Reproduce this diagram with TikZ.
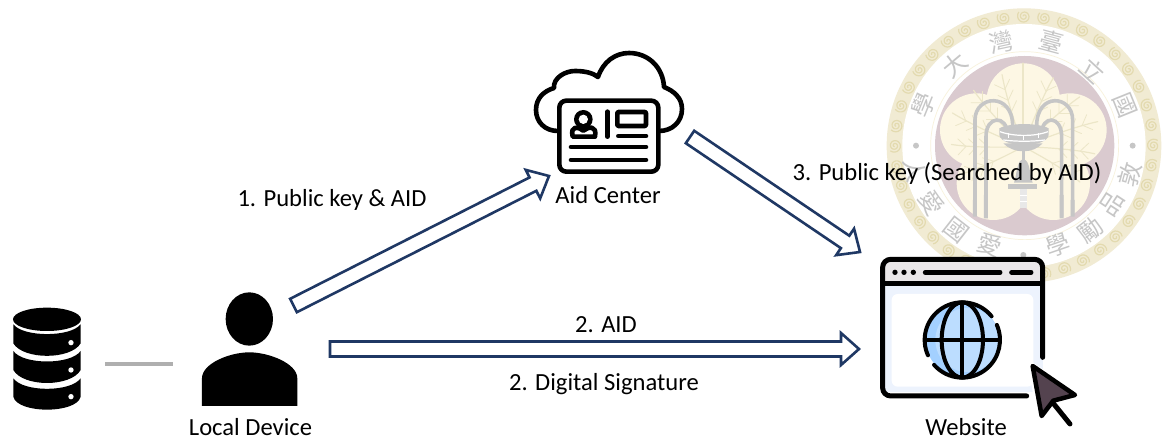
\documentclass[tikz,border=0pt]{standalone}
\usepackage{fontspec}
\setmainfont{Carlito}
\newfontfamily\cjkfont{Noto Sans CJK TC}
\usetikzlibrary{calc}
\definecolor{navy}{HTML}{1F3864}
\definecolor{ringtan}{HTML}{F1EBD3}
\definecolor{ringdark}{HTML}{E3DAAF}
\definecolor{discpurple}{HTML}{DACACF}
\definecolor{petal}{HTML}{FDF7E4}
\definecolor{frond}{HTML}{ECE6C8}
\definecolor{sealgrey}{HTML}{C6C6C6}
\definecolor{linkgrey}{HTML}{AFAFAF}
\definecolor{barfill}{HTML}{EAE7E9}
\definecolor{pagefill}{HTML}{EDF3FD}
\definecolor{globefill}{HTML}{A3D0FF}
\definecolor{globelight}{HTML}{BCDDFF}
\definecolor{cursorfill}{HTML}{54434F}
\tikzset{
  label text/.style={font=\fontsize{24.6}{28}\selectfont, text=black, inner sep=0pt, anchor=center},
  seal char/.style={font=\cjkfont\fontsize{24}{26}\selectfont, text=sealgrey, inner sep=0pt},
  blockarrow/.style={draw=navy, line width=2.6pt, fill=white, line join=miter, miter limit=10,
    to path={
      ($(\tikztostart)!7.5pt!90:(\tikztotarget)$)
      -- ($(\tikztotarget)!18pt!(\tikztostart)!7.5pt!90:(\tikztotarget)$)
      -- ($(\tikztotarget)!18pt!(\tikztostart)!16pt!90:(\tikztotarget)$)
      -- (\tikztotarget)
      -- ($(\tikztotarget)!18pt!(\tikztostart)!16pt!-90:(\tikztotarget)$)
      -- ($(\tikztotarget)!18pt!(\tikztostart)!7.5pt!-90:(\tikztotarget)$)
      -- ($(\tikztostart)!7.5pt!-90:(\tikztotarget)$)
      -- cycle}},
  icon line/.style={draw=black, line width=4.6pt, line cap=round, line join=round},
  frond line/.style={draw=frond, line width=1.2pt, line cap=round}
}
\begin{document}
\begin{tikzpicture}[x=1pt,y=-1pt]
\useasboundingbox (0,0) rectangle (1162,441);
\fill[white] (0,0) rectangle (1162,441);

% ---- seal (faint emblem behind the diagram) ----
\begin{scope}[shift={(860,0)},x=0.3333pt,y=-0.3333pt]
  \fill[ringtan] (492,437) circle [radius=412];
  \fill[white] (492,437) circle [radius=365];
  \begin{scope}[shift={(492,437)}]
    \foreach \a in {0,9,...,351}{
      \begin{scope}[rotate=\a,shift={(0,388)}]
        \draw[ringdark,line width=1.2pt] plot[smooth,domain=0:760,samples=36] (\x:{2+\x*0.024});
      \end{scope}
    }
  \end{scope}
  \draw[petal!70!frond,line width=.7pt] (494,437) circle [radius=282];
  \fill[discpurple] (494,437) circle [radius=269];
  \fill[petal] (490,300) circle [radius=110] (350,390) circle [radius=110] (630,390) circle [radius=110]
     (400,550) circle [radius=110] (580,550) circle [radius=110] (490,440) circle [radius=130];
  % palm
  \draw[frond line,line width=1.8pt] (490,440) -- (490,190);
  \foreach \ang/\len in {20/225,-20/225,45/225,-45/225,68/235,-68/235,92/215,-92/215,118/200,-118/200}{
    \begin{scope}[shift={(490,440)},rotate=\ang]
      \draw[frond line] (0,0) .. controls (0,{-\len*.5}) and (6,{-\len*.8}) .. (14,-\len);
      \foreach \t in {.5,.65,.8}{
        \draw[frond line,line width=.8pt] ({\t*8},{-\len*\t}) -- ({\t*8+24},{-\len*\t-24});
        \draw[frond line,line width=.8pt] ({\t*8},{-\len*\t}) -- ({\t*8-24},{-\len*\t-24});
      }
    \end{scope}
  }
  % fountain arches
  \draw[sealgrey,line width=3.6pt] (345,645) -- (345,360) .. controls (345,285) and (458,275) .. (458,378);
  \draw[sealgrey,line width=3.6pt] (378,650) -- (378,410) .. controls (378,345) and (442,345) .. (442,402);
  \draw[sealgrey,line width=3.6pt] (638,645) -- (638,360) .. controls (638,285) and (530,275) .. (530,378);
  \draw[sealgrey,line width=3.6pt] (605,650) -- (605,410) .. controls (605,345) and (545,345) .. (545,402);
  \fill[sealgrey] (372,585) rectangle (384,655) (339,600) rectangle (351,650) (599,585) rectangle (611,655) (632,600) rectangle (644,650);
  % bowl
  \fill[sealgrey] (418,385) .. controls (450,368) and (535,368) .. (566,385) -- (566,405) .. controls (560,445) and (425,445) .. (418,405) -- cycle;
  \draw[white,line width=1.2pt] (420,395) .. controls (460,410) and (525,410) .. (564,395);
  \draw[white,line width=1.2pt] (430,420) .. controls (470,425) and (515,425) .. (555,420);
  \draw[white,line width=1pt] (446,400) -- (446,415) (490,405) -- (490,420) (535,400) -- (535,415);
  \fill[sealgrey] (430,430) .. controls (460,462) and (520,462) .. (548,430) -- cycle;
  % bell and base
  \fill[sealgrey] (485,450) rectangle (495,480);
  \fill[sealgrey] (490,478) .. controls (470,480) and (472,520) .. (462,548) -- (518,548) .. controls (508,520) and (510,480) .. (490,478) -- cycle;
  \fill[sealgrey] (445,552) rectangle (532,566);
  \fill[sealgrey!40] (480,568) rectangle (500,625);
  \draw[white,line width=.8pt] (480,585) -- (500,585) (480,605) -- (500,605);
  % characters
  \foreach \i/\cx/\cy/\r/\t in {1/425/125/12/灣,2/575/125/-15/臺,3/700/210/-42.5/立,4/795/315/-68/國,5/285/195/40/大,6/190/315/68/學,
     7/810/525/74.5/敦,8/755/610/57/品,9/690/690/38/勵,10/595/735/19/學,11/390/735/-19/愛,12/290/690/-38/國,13/215/610/-58/愛,14/165/510/-77/人}{
    \node[seal char,rotate=\r] (sealchar\i) at (\cx,\cy) {\t};
  }
  \fill[sealgrey] (168,437) circle [radius=9] (818,437) circle [radius=9] (490,765) circle [radius=9];
\end{scope}

% ---- database ----
\begin{scope}[shift={(0,280)},x=0.3333pt,y=-0.3333pt]
  \fill[black] (141,118) ellipse [x radius=102, y radius=35];
  \fill[black] (40,133) .. controls (70,172) and (212,172) .. (242,133) -- (242,190) .. controls (212,240) and (70,240) .. (40,190) -- cycle;
  \fill[black] (40,213) .. controls (70,255) and (212,255) .. (242,213) -- (242,270) .. controls (212,322) and (70,322) .. (40,270) -- cycle;
  \fill[black] (40,295) .. controls (70,337) and (212,337) .. (242,295) -- (242,350) .. controls (230,402) and (52,402) .. (40,350) -- cycle;
  \fill[white] (213,188) circle [radius=8] (213,270) circle [radius=8] (213,350) circle [radius=8];
\end{scope}

% ---- person ----
\begin{scope}[shift={(0,280)},x=0.3333pt,y=-0.3333pt]
  \fill[black] (748,117) ellipse [x radius=71, y radius=80];
  \fill[black] (606,378) -- (606,295) .. controls (606,250) and (690,217) .. (748,217) .. controls (806,217) and (892,250) .. (892,295) -- (892,378) -- cycle;
\end{scope}

% ---- cloud with card ----
\draw[icon line] (558,131) .. controls (545,131) and (536,122) .. (536,110) .. controls (536,98) and (544,91) .. (554,88)
  .. controls (553,78) and (565,71) .. (575,71) .. controls (585,71) and (593,73) .. (598,77)
  .. controls (603,62) and (615,53) .. (629,53) .. controls (648,53) and (663,67) .. (664,87)
  .. controls (674,91) and (682,98) .. (682,109) .. controls (682,122) and (672,131) .. (659,131);
\begin{scope}[shift={(520,60)},x=0.3333pt,y=-0.3333pt]
  \draw[icon line,fill=white,rounded corners=7pt] (118,122) rectangle (415,335);
  \fill[black] (190,178) circle [radius=28];
  \fill[white] (190,178) circle [radius=14];
  \draw[icon line] (158,230) .. controls (150,195) and (175,200) .. (190,212) .. controls (205,200) and (232,195) .. (225,230) -- cycle;
  \draw[icon line] (262,155) -- (262,230);
  \draw[icon line,rounded corners=1pt] (292,156) rectangle (378,198);
  \draw[icon line] (295,228) -- (378,228);
  \draw[icon line] (153,261) -- (378,261);
  \draw[icon line] (153,300) -- (378,300);
\end{scope}

% ---- website ----
\begin{scope}[shift={(860,240)},x=0.3333pt,y=-0.3333pt]
  \fill[pagefill] (68,132) rectangle (548,455);
  \fill[white,rounded corners=6pt] (95,162) rectangle (520,440);
  \fill[barfill,rounded corners=6pt] (68,58) rectangle (548,132);
  \draw[line width=5pt,black,line cap=round,rounded corners=8pt] (548,352) -- (548,58) -- (68,58) -- (68,468) -- (500,468);
  \draw[line width=5pt,black] (68,132) -- (548,132);
  \fill[black] (105,97) circle [radius=8] (132,97) circle [radius=8] (160,97) circle [radius=8];
  \draw[line width=5pt,black,line cap=round] (196,97) -- (420,97) (455,97) -- (513,97);
  % globe
  \fill[globefill] (307,300) circle [radius=110];
  \fill[globelight] (322,300) circle [radius=96];
  \draw[line width=4pt,black,line cap=round] ([shift={(-39:113)}]307,300) arc [start angle=-39, end angle=-204, radius=113];
  \draw[line width=4pt,black,line cap=round] ([shift={(138.6:113)}]307,300) arc [start angle=138.6, end angle=-23.6, radius=113];
  \draw[line width=4pt,black] (307,300) ellipse [x radius=62, y radius=113];
  \draw[line width=4pt,black] (307,187) -- (307,413) (194,300) -- (420,300);
  % cursor
  \fill[white] (500,355) -- (670,470) -- (600,490) -- (645,560) -- (620,575) -- (570,510) -- (535,550) -- cycle;
  \draw[line width=5pt,black,line cap=round] (580,490) -- (630,552);
  \draw[line width=4.5pt,black,fill=cursorfill,line join=round] (518,378) -- (645,465) -- (580,482) -- (545,528) -- cycle;
\end{scope}

% ---- connectors ----
\coordinate (a1s) at (293.5,305.5);
\coordinate (a1t) at (549,176);
\coordinate (a2s) at (330,349);
\coordinate (a2t) at (859,349);
\coordinate (a3s) at (690,137);
\coordinate (a3t) at (860,252);
\coordinate (l1s) at (105,364);
\coordinate (l1t) at (173,364);
\draw[blockarrow] (a1s) to (a1t);
\draw[blockarrow] (a2s) to (a2t);
\draw[blockarrow] (a3s) to (a3t);
\draw[linkgrey,line width=3.2pt] (l1s) -- (l1t);

% ---- labels ----
\node[label text] (lab1) at (332,200) {1. Public key \& AID};
\node[label text] (lab2) at (608,195) {Aid Center};
\node[label text] (lab3) at (947,173) {3. Public key (Searched by AID)};
\node[label text] (lab4) at (606,325) {2. AID};
\node[label text] (lab5) at (604,384) {2. Digital Signature};
\node[label text] (lab6) at (250.5,427.5) {Local Device};
\node[label text] (lab7) at (966,427) {Website};
\end{tikzpicture}
\end{document}
